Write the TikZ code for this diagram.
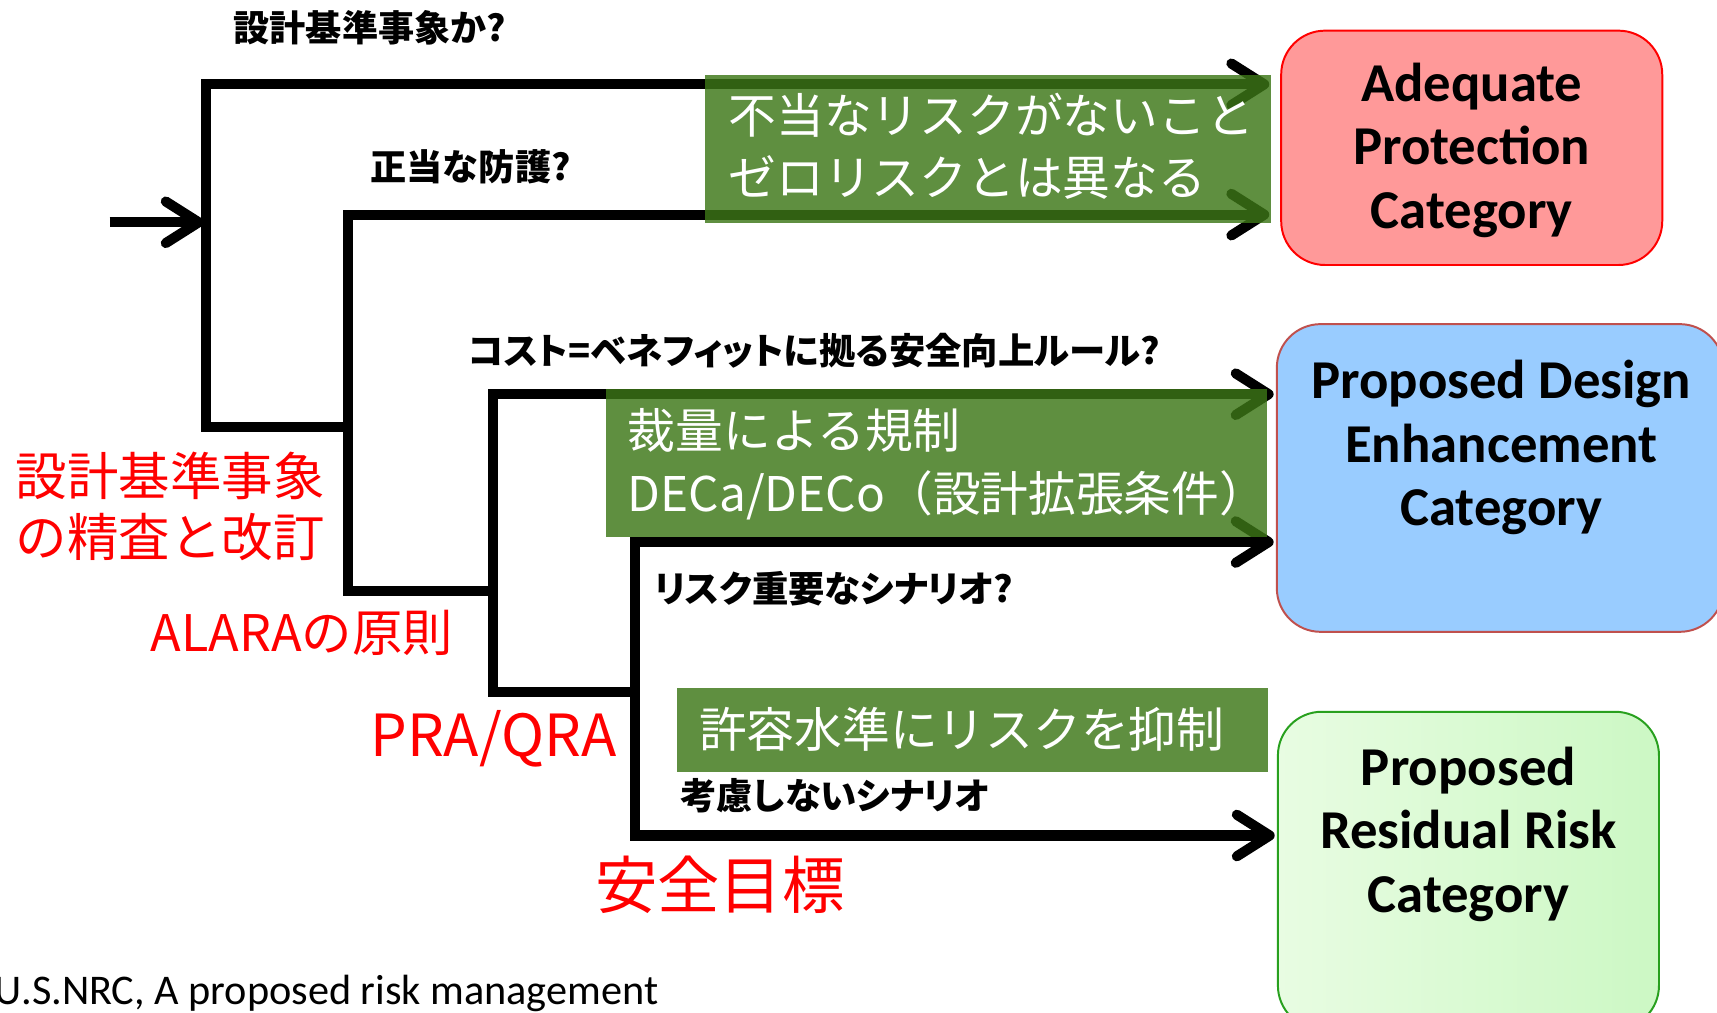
\documentclass[tikz,border=0pt]{standalone}
\usepackage{fontspec}
\setmainfont{Carlito}
\newfontfamily\jp{Noto Sans CJK JP}
\newfontfamily\jpp{Noto Sans CJK JP}[RawFeature=+palt]
\usetikzlibrary{arrows.meta}
\definecolor{gbg}{RGB}{60,118,22}
\definecolor{apfill}{RGB}{255,153,153}
\definecolor{pdfill}{RGB}{153,204,255}
\definecolor{pdline}{RGB}{192,80,77}
\definecolor{rrline}{RGB}{40,160,30}
\definecolor{rrA}{RGB}{232,252,226}
\definecolor{rrB}{RGB}{204,248,196}
\tikzset{
  conn/.style={line width=4.6pt, line join=miter},
  barb/.tip={Straight Barb[length=15pt,width=19pt,round]},
  qtext/.style={font=\jp\bfseries\fontsize{16.5pt}{19pt}\selectfont, anchor=west, inner sep=0pt},
  qptext/.style={font=\jpp\bfseries\fontsize{16.6pt}{19pt}\selectfont, anchor=west, inner sep=0pt},
  gtext/.style={font=\jp\fontsize{21.8pt}{26pt}\selectfont, text=white, anchor=west, inner sep=0pt},
  rtext/.style={font=\jp\fontsize{23.5pt}{28pt}\selectfont, text=red, anchor=west, inner sep=0pt},
  gbox/.style={fill=gbg, fill opacity=0.82, draw=none, inner sep=0pt, anchor=north west},
  catbox/.style={rounded corners=20pt, line width=0.9pt, inner sep=0pt},
  cattext/.style={font=\bfseries\fontsize{25pt}{29pt}\selectfont, align=center, inner sep=0pt}
}
\begin{document}
\begin{tikzpicture}[x=0.5pt,y=-0.5pt]
\useasboundingbox (0,0) rectangle (1568,925);

% category boxes
\node[catbox, fill=apfill, draw=red, minimum width=174pt, minimum height=107pt] (ap) at (1344,135) {};
\node[catbox, fill=pdfill, draw=pdline, minimum width=204pt, minimum height=140.5pt] (pd) at (1370,436.5) {};
\node[catbox, left color=rrA, right color=rrB, draw=rrline, minimum width=174pt, minimum height=145pt] (rr) at (1341,795) {};

\node[cattext] (apt) at (1344,137) {Adequate\\Protection\\Category};
\node[cattext] (pdt) at (1371,409) {Proposed Design\\Enhancement\\Category};
\node[cattext] (rrt) at (1341,762) {Proposed\\Residual Risk\\Category};

% junction coordinates
\coordinate (in) at (100,203);
\coordinate (j1) at (188,203);
\coordinate (a1) at (188,77);
\coordinate (b1) at (188,390);
\coordinate (j2) at (318,390);
\coordinate (a2) at (318,196);
\coordinate (b2) at (318,540);
\coordinate (j3) at (450,540);
\coordinate (a3) at (450,360);
\coordinate (b3) at (450,632);
\coordinate (j4) at (580,632);
\coordinate (a4) at (580,495);
\coordinate (b4) at (580,763);

% connectors
\draw[conn, -barb, shorten >=1pt] (in) -- (j1);
\draw[conn, -barb, shorten >=5pt] (j2) -- (b1) -- (a1) -- (a1 -| ap.west);
\draw[conn, -barb, shorten >=5pt] (j3) -- (b2) -- (a2) -- (a2 -| ap.west);
\draw[conn, -barb, shorten >=1pt] (j4) -- (b3) -- (a3) -- (a3 -| pd.west);
\draw[conn, barb-barb, shorten <=1pt, shorten >=1pt] (a4 -| pd.west) -- (a4) -- (b4) -- (b4 -| rr.west);

% green overlays
\node[gbox, minimum width=258.5pt, minimum height=67.5pt] (g1) at (643,68) {};
\node[gbox, minimum width=302pt, minimum height=67.5pt] (g2) at (553,355) {};
\node[gbox, minimum width=270pt, minimum height=38.5pt] (g3) at (618,628) {};

\node[gtext] (g1a) at (665,105) {不当なリスクがないこと};
\node[gtext] (g1b) at (665,162) {ゼロリスクとは異なる};
\node[gtext] (g2a) at (573,393) {裁量による規制};
\node[gtext] (g2b) at (573,452) {DECa/DECo（設計拡張条件）};
\node[gtext] (g3a) at (638,666) {許容水準にリスクを抑制};

% question labels
\node[qtext] (q1) at (213,25) {設計基準事象か?};
\node[qtext] (q2) at (338,152) {正当な防護?};
\node[qptext] (q3) at (427,320) {コスト=ベネフィットに拠る安全向上ルール?};
\node[qptext] (q4) at (597,538) {リスク重要なシナリオ?};
\node[qptext] (q5) at (621,727) {考慮しないシナリオ};

% red labels
\node[rtext] (r1) at (14,435) {設計基準事象};
\node[rtext] (r2) at (14,490) {の精査と改訂};
\node[rtext, font=\jp\fontsize{23pt}{28pt}\selectfont] (r3) at (137,578) {ALARAの原則};
\node[rtext, font=\jp\fontsize{26.5pt}{32pt}\selectfont] (r4) at (338,675) {PRA/QRA};
\node[rtext, font=\jp\fontsize{28.5pt}{32pt}\selectfont] (r5) at (543,808) {安全目標};

% footnote
\node[anchor=base west, inner sep=0pt, font=\fontsize{19.3pt}{22pt}\selectfont] (src) at (-5,917) {U.S.NRC, A proposed risk management};
\end{tikzpicture}
\end{document}
